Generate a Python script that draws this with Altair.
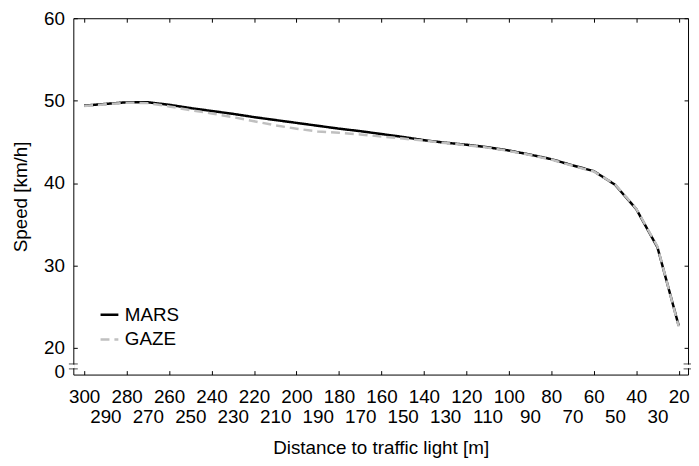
import altair as alt
import pandas as pd

# ---- data ----
distance = [300, 290, 280, 270, 260, 250, 240, 230, 220, 210, 200, 190, 180, 170, 160,
            150, 140, 130, 120, 110, 100, 90, 80, 70, 60, 50, 40, 30, 20]
mars = [49.4, 49.6, 49.8, 49.8, 49.5, 49.1, 48.75, 48.4, 48.0, 47.65, 47.3, 46.95, 46.6, 46.3,
        45.95, 45.6, 45.2, 44.9, 44.65, 44.35, 43.95, 43.45, 42.9, 42.15, 41.45, 39.8, 36.85,
        32.2, 22.7]
gaze = [49.35, 49.55, 49.75, 49.7, 49.3, 48.85, 48.45, 48.0, 47.5, 47.0, 46.6, 46.25, 46.1,
        45.9, 45.65, 45.4, 45.15, 44.85, 44.6, 44.3, 43.9, 43.4, 42.85, 42.1, 41.4, 39.85, 36.9,
        32.3, 22.6]
series_names = ["MARS", "GAZE"]
series_colors = ["#000000", "#c0c0c0"]
series_dash = [[1, 0], [9, 5]]

x_label_values = list(range(300, 10, -10))
x_tick_values = list(range(300, 0, -20))
y_tick_values = [20, 30, 40, 50, 60]
y_zero_pos = 17.1           # where the "0" below the axis break sits
y_break = [18.05, 17.45]     # axis break marks
x_edges = [15.6, 305.1]      # plot edges in data units

W, H = 621, 360
FONT = "Liberation Sans"
FS = 19

df = pd.DataFrame({
    "d": distance * 2,
    "v": mars + gaze,
    "s": ["MARS"] * len(distance) + ["GAZE"] * len(distance),
})
brk = pd.DataFrame([{"x": xe, "y": yb} for xe in x_edges for yb in y_break])
gap = pd.DataFrame({"x": x_edges, "y": [y_break[0] - 0.08] * 2, "y2": [y_break[1] + 0.08] * 2})

xs = alt.Scale(domain=x_edges, reverse=True, nice=False, zero=False)
ys = alt.Scale(domain=[16.76, 60], nice=False, zero=False)

color = alt.Color("s:N", scale=alt.Scale(domain=series_names, range=series_colors),
                  legend=alt.Legend(title=None))
dash = alt.StrokeDash("s:N", scale=alt.Scale(domain=series_names, range=series_dash),
                      legend=alt.Legend(title=None))

x_main = alt.Axis(orient="bottom", values=x_label_values,
                  labelExpr="datum.value % 20 == 0 ? datum.label : ['', datum.label]",
                  ticks=False, tickSize=0, domain=True, labelFontSize=FS, labelFont=FONT,
                  labelColor="black", labelPadding=13, labelOverlap=False, labelFlush=False,
                  labelBound=False, labelLineHeight=20,
                  title="Distance to traffic light [m]", titleFont=FONT, titleFontSize=FS,
                  titleFontWeight="normal", titleColor="black", titlePadding=13)
y_main = alt.Axis(orient="left", values=[y_zero_pos] + y_tick_values,
                  labelExpr="datum.value < 19 ? '0' : datum.label",
                  ticks=False, tickSize=0, domain=True, labelFontSize=FS, labelFont=FONT,
                  labelColor="black", labelPadding=9, labelOverlap=False, labelFlush=False,
                  title="Speed [km/h]", titleFont=FONT, titleFontSize=FS,
                  titleFontWeight="normal", titleColor="black", titlePadding=13)

mars_layer = alt.Chart(df).transform_filter(alt.datum.s == "MARS").mark_line(strokeWidth=2.5).encode(
    x=alt.X("d:Q", scale=xs, axis=x_main),
    y=alt.Y("v:Q", scale=ys, axis=y_main),
    color=color, strokeDash=dash,
)
gaze_layer = alt.Chart(df).transform_filter(alt.datum.s == "GAZE").mark_line(strokeWidth=2.5).encode(
    x=alt.X("d:Q", scale=xs, axis=None),
    y=alt.Y("v:Q", scale=ys, axis=None),
    color=color, strokeDash=dash,
)

# inward ticks on bottom and left edges
ticks_bl = alt.Chart(df).mark_point(opacity=0).encode(
    x=alt.X("d:Q", scale=xs, axis=alt.Axis(orient="top", offset=-H, values=x_tick_values,
                                           labels=False, domain=False, tickSize=4, title=None)),
    y=alt.Y("v:Q", scale=ys, axis=alt.Axis(orient="right", offset=-W, values=y_tick_values,
                                           labels=False, domain=False, tickSize=4, title=None)),
)
# top and right frame with inward ticks
ticks_tr = alt.Chart(df).mark_point(opacity=0).encode(
    x=alt.X("d:Q", scale=xs, axis=alt.Axis(orient="bottom", offset=-H, values=x_tick_values,
                                           labels=False, domain=True, tickSize=4, title=None)),
    y=alt.Y("v:Q", scale=ys, axis=alt.Axis(orient="left", offset=-W, values=y_tick_values,
                                           labels=False, domain=True, tickSize=4, title=None)),
)

gap_layer = alt.Chart(gap).mark_rule(color="white", strokeWidth=3).encode(
    x=alt.X("x:Q", scale=xs, axis=None),
    y=alt.Y("y:Q", scale=ys, axis=None),
    y2="y2:Q",
)
break_layer = alt.Chart(brk).mark_tick(orient="horizontal", size=9, thickness=1, color="black").encode(
    x=alt.X("x:Q", scale=xs, axis=None),
    y=alt.Y("y:Q", scale=ys, axis=None),
)

chart = alt.layer(
    mars_layer, gaze_layer, ticks_bl, ticks_tr, gap_layer, break_layer
).resolve_scale(
    x="shared", y="shared"
).resolve_axis(
    x="independent", y="independent"
).properties(
    width=W, height=H,
    autosize=alt.AutoSizeParams(type="none"),
    padding={"left": 66, "top": 8, "right": 3, "bottom": 88},
).configure_view(
    strokeWidth=0
).configure_axis(
    grid=False, domainColor="black", tickColor="black", domainWidth=1, tickWidth=1,
).configure_legend(
    orient="none", legendX=26, legendY=289, symbolType="stroke", symbolSize=324,
    symbolStrokeWidth=2.5, labelFontSize=FS, labelFont=FONT, labelColor="black",
    labelOffset=5, rowPadding=4, padding=0,
)

chart.save("out.html", embed_options={"renderer": "svg", "actions": False})
